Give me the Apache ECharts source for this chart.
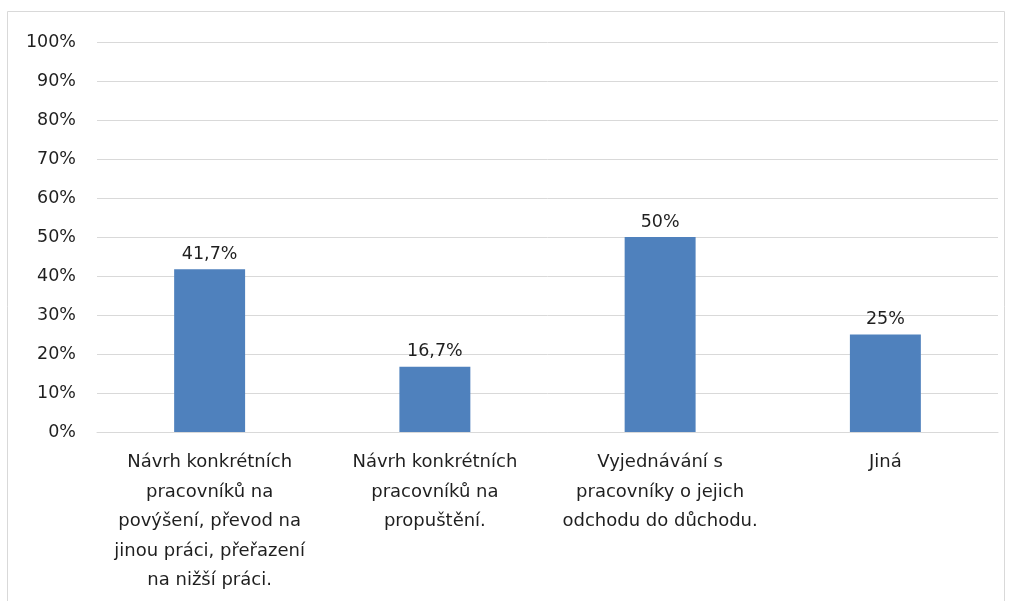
<!DOCTYPE html>
<html>
<head>
<meta charset="utf-8">
<script src="https://cdn.jsdelivr.net/npm/echarts@6/dist/echarts.min.js"></script>
<style>
  html, body { margin: 0; padding: 0; background: #fff; }
  #chart { width: 1011px; height: 601px; }
</style>
</head>
<body>
<div id="chart"></div>
<script>
// Category labels, wrapped like the original
const categories = [
  'Návrh konkrétních\npracovníků na\npovýšení, převod na\njinou práci, přeřazení\nna nižší práci.',
  'Návrh konkrétních\npracovníků na\npropuštění.',
  'Vyjednávání s\npracovníky o jejich\nodchodu do důchodu.',
  'Jiná'
];
const values = [41.7, 16.7, 50, 25];
const valueLabels = ['41,7%', '16,7%', '50%', '25%'];

const FONT = 'DejaVu Sans';
const TEXT = '#1f1f1f';

const chart = echarts.init(document.getElementById('chart'), null, { renderer: 'canvas' });

chart.setOption({
  animation: false,
  backgroundColor: '#fff',
  textStyle: { fontFamily: FONT },
  graphic: [{
    type: 'rect',
    shape: { x: 7.5, y: 11.5, width: 997, height: 600 },
    style: { fill: 'none', stroke: '#d9d9d9', lineWidth: 1 },
    silent: true
  }],
  grid: { left: 97, right: 13, top: 42, bottom: 169, containLabel: false },
  xAxis: {
    type: 'category',
    data: categories,
    axisLine: { show: true, lineStyle: { color: '#d9d9d9', width: 1 } },
    axisTick: { show: false },
    axisLabel: {
      interval: 0,
      color: TEXT,
      fontFamily: FONT,
      fontSize: 18,
      lineHeight: 29.5,
      margin: 16,
      align: 'center'
    }
  },
  yAxis: {
    type: 'value',
    min: 0,
    max: 100,
    interval: 10,
    axisLine: { show: false },
    axisTick: { show: false },
    splitLine: { lineStyle: { color: '#d9d9d9', width: 1 } },
    axisLabel: {
      color: TEXT,
      fontFamily: FONT,
      fontSize: 17.5,
      margin: 21,
      formatter: v => v + '%'
    }
  },
  series: [{
    type: 'bar',
    data: values,
    barWidth: '31.5%',
    itemStyle: { color: '#4f81bd' },
    label: {
      show: true,
      position: 'top',
      distance: 6,
      color: TEXT,
      fontFamily: FONT,
      fontSize: 17.5,
      formatter: p => valueLabels[p.dataIndex]
    }
  }]
});
</script>
</body>
</html>
